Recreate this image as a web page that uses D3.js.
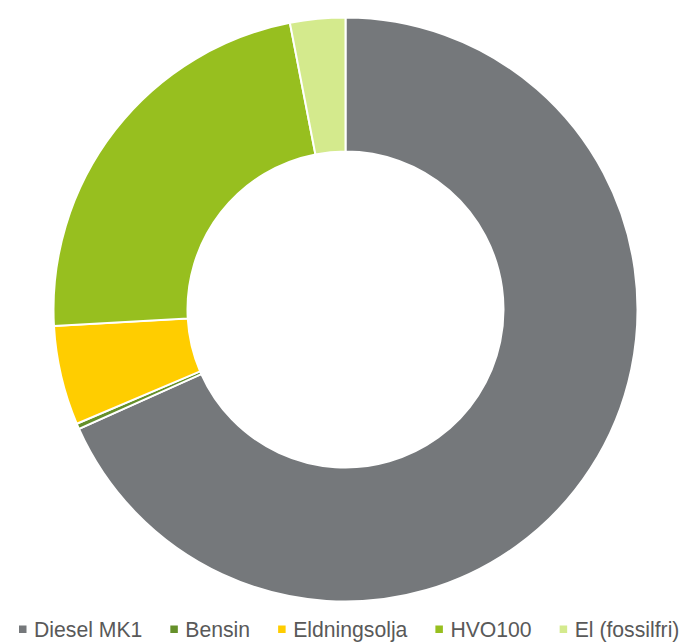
<!DOCTYPE html>
<html>
<head>
<meta charset="utf-8">
<script src="https://cdn.jsdelivr.net/npm/d3@7"></script>
<style>
html,body{margin:0;padding:0;background:#fff;}
svg{display:block;}
</style>
</head>
<body>
<svg id="chart" width="681" height="642"></svg>
<script>
const categories = ["Diesel MK1", "Bensin", "Eldningsolja", "HVO100", "El (fossilfri)"];
const values = [68.3, 0.3, 5.5, 22.85, 3.05];
const colors = ["#75787B", "#65902A", "#FFCD00", "#97BF1F", "#D4EA8D"];

const svg = d3.select("#chart");
const cx = 345.5, cy = 309.5, outerR = 292, innerR = 158;

const data = categories.map((c, i) => ({name: c, value: values[i], color: colors[i]}));
const pie = d3.pie().value(d => d.value).sort(null);
const arc = d3.arc().innerRadius(innerR).outerRadius(outerR);

svg.append("g").attr("transform", `translate(${cx},${cy})`)
  .selectAll("path").data(pie(data)).join("path")
  .attr("d", arc)
  .attr("fill", d => d.data.color)
  .attr("stroke", "#fff")
  .attr("stroke-width", 2);

// legend
const legend = svg.append("g").attr("font-family", "Liberation Sans, Arial, sans-serif")
  .attr("font-size", "21.2px").attr("fill", "#595959");
let x = 19;
const baseY = 637;
data.forEach(d => {
  legend.append("rect").attr("x", x).attr("y", baseY - 11.5).attr("width", 7.5).attr("height", 7.5).attr("fill", d.color);
  const t = legend.append("text").attr("x", x + 15).attr("y", baseY).text(d.name);
  const w = t.node().getComputedTextLength();
  x = x + 15 + w + 28;
});
</script>
</body>
</html>
